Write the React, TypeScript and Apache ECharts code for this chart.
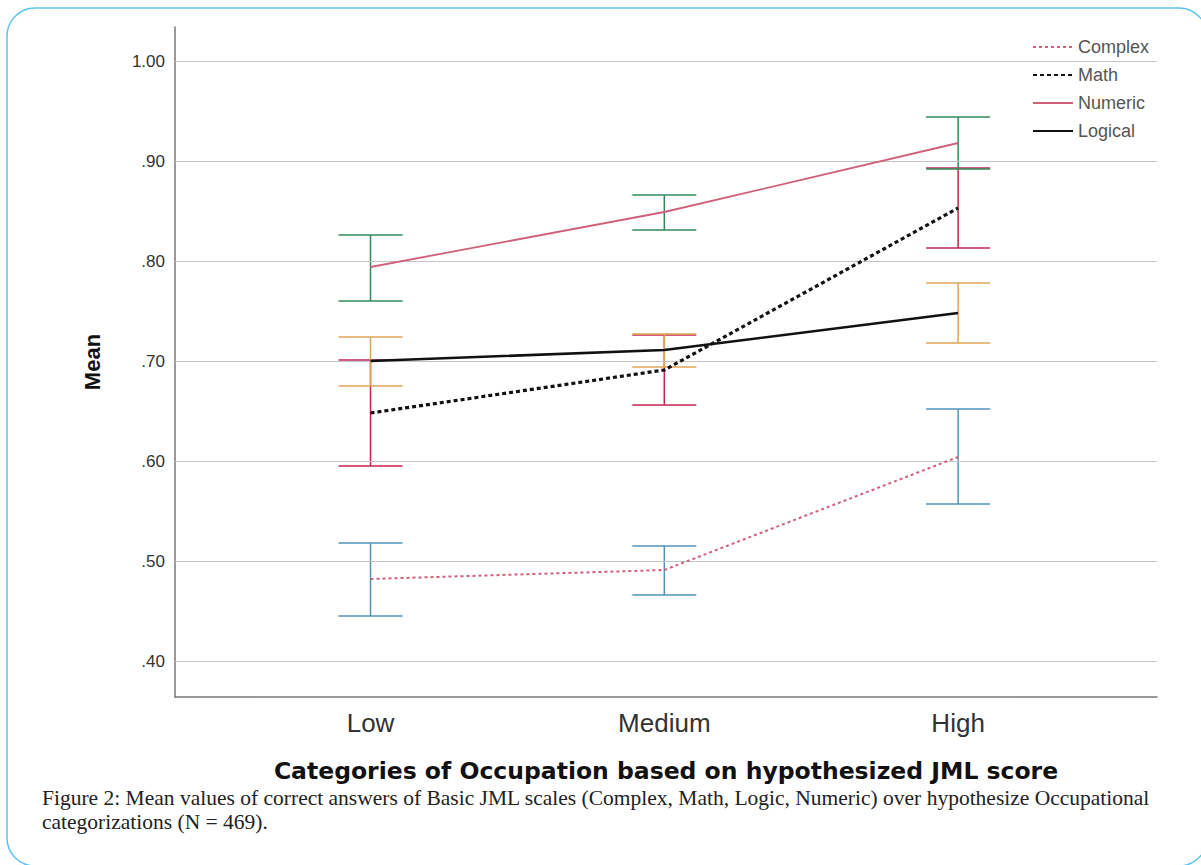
import React, { useEffect, useRef } from "react";
import * as echarts from "echarts";

const categories = ["Low", "Medium", "High"];
const categoryPositions = [1, 2, 3];
const yTicks = [0.4, 0.5, 0.6, 0.7, 0.8, 0.9, 1.0];

const complexMean = [0.482, 0.491, 0.604];
const complexLow = [0.445, 0.466, 0.557];
const complexHigh = [0.518, 0.515, 0.652];

const mathMean = [0.648, 0.691, 0.853];
const mathLow = [0.595, 0.656, 0.813];
const mathHigh = [0.701, 0.726, 0.893];

const numericMean = [0.794, 0.849, 0.918];
const numericLow = [0.760, 0.831, 0.892];
const numericHigh = [0.826, 0.866, 0.944];

const logicalMean = [0.700, 0.711, 0.748];
const logicalLow = [0.675, 0.694, 0.718];
const logicalHigh = [0.724, 0.727, 0.778];

const captionLines = [
  "Figure 2: Mean values of correct answers of Basic JML scales (Complex, Math, Logic, Numeric) over hypothesize Occupational",
  "categorizations (N = 469).",
];

const FONT = "Liberation Sans, Arial, sans-serif";

function errorBarSeries(name: string, lows: number[], highs: number[], color: string) {
  return {
    name,
    type: "custom",
    z: 2,
    data: categoryPositions.map((x, i) => [x, lows[i], highs[i]]),
    encode: { x: 0, y: [1, 2] },
    renderItem: (params: any, api: any) => {
      const x = api.value(0);
      const pHi = api.coord([x, api.value(2)]);
      const pLo = api.coord([x, api.value(1)]);
      const half = 32;
      const style = { stroke: color, lineWidth: 1.5 };
      return {
        type: "group",
        children: [
          { type: "line", shape: { x1: pHi[0], y1: pHi[1], x2: pLo[0], y2: pLo[1] }, style },
          { type: "line", shape: { x1: pHi[0] - half, y1: pHi[1], x2: pHi[0] + half, y2: pHi[1] }, style },
          { type: "line", shape: { x1: pLo[0] - half, y1: pLo[1], x2: pLo[0] + half, y2: pLo[1] }, style },
        ],
      };
    },
  };
}

function meanSeries(name: string, values: number[], color: string, width: number, type: any) {
  return {
    name,
    type: "line",
    z: 5,
    symbol: "none",
    data: categoryPositions.map((x, i) => [x, values[i]]),
    lineStyle: { color, width, type },
    itemStyle: { color },
  };
}

export default function App() {
  const ref = useRef<HTMLDivElement>(null);
  useEffect(() => {
    document.body.style.margin = "0";
    document.body.style.overflow = "hidden";
    const chart = echarts.init(ref.current!, null, { renderer: "svg" });
    chart.setOption({
      animation: false,
      backgroundColor: "#ffffff",
      grid: { left: 175, right: 44, top: 27, bottom: 168 },
      legend: {
        data: ["Complex", "Math", "Numeric", "Logical"],
        orient: "vertical",
        left: 1027,
        top: 33,
        itemWidth: 40,
        itemHeight: 16,
        itemGap: 10,
        itemStyle: { opacity: 0 },
        textStyle: { fontFamily: FONT, fontSize: 18, color: "#555" },
      },
      xAxis: {
        type: "value",
        min: 0.3345,
        max: 3.677,
        name: "Categories of Occupation based on hypothesized JML score",
        nameLocation: "middle",
        nameGap: 62,
        nameTextStyle: { fontFamily: "DejaVu Sans, sans-serif", fontSize: 23.5, fontWeight: "bold", color: "#111" },
        axisLine: { show: true, lineStyle: { color: "#777", width: 1.5 } },
        axisTick: { show: false },
        splitLine: { show: false },
        axisLabel: {
          customValues: categoryPositions,
          formatter: (v: number) => categories[Math.round(v) - 1] ?? "",
          fontFamily: FONT,
          fontSize: 26,
          color: "#333",
          margin: 13,
        },
      },
      yAxis: {
        type: "value",
        min: 0.364,
        max: 1.034,
        name: "Mean",
        nameLocation: "middle",
        nameRotate: 90,
        nameGap: 72,
        nameTextStyle: { fontFamily: FONT, fontSize: 22, fontWeight: "bold", color: "#111" },
        axisLine: { show: true, lineStyle: { color: "#777", width: 1.5 } },
        axisTick: { show: false, customValues: yTicks },
        splitLine: { show: false },
        axisLabel: {
          customValues: yTicks,
          formatter: (v: number) => (v >= 1 ? v.toFixed(2) : v.toFixed(2).replace(/^0/, "")),
          fontFamily: FONT,
          fontSize: 17,
          color: "#333",
          margin: 10,
        },
      },
      graphic: [
        {
          type: "rect",
          shape: { x: 7, y: 8, width: 1200, height: 858, r: 28 },
          style: { fill: "none", stroke: "#5cc3ee", lineWidth: 1.5 },
          silent: true,
        },
        {
          type: "text",
          left: 42,
          top: 786,
          style: {
            text: captionLines.join("\n"),
            fontFamily: "Liberation Serif, Times New Roman, serif",
            fontSize: 21.5,
            lineHeight: 24,
            fill: "#222",
          },
        },
      ],
      series: [
        {
          name: "grid",
          type: "line",
          data: [],
          z: 1,
          markLine: {
            silent: true,
            symbol: ["none", "none"],
            label: { show: false },
            lineStyle: { color: "#c4c4c4", type: "solid", width: 1.2 },
            data: yTicks.map((v) => ({ yAxis: v })),
          },
        },
        errorBarSeries("Complex error", complexLow, complexHigh, "#4f93b8"),
        errorBarSeries("Math error", mathLow, mathHigh, "#c4244f"),
        errorBarSeries("Numeric error", numericLow, numericHigh, "#2f8a5a"),
        errorBarSeries("Logical error", logicalLow, logicalHigh, "#e0a458"),
        meanSeries("Complex", complexMean, "#d0607a", 2, [3, 3]),
        meanSeries("Math", mathMean, "#111111", 3.2, [4, 3]),
        meanSeries("Numeric", numericMean, "#d0607a", 1.8, "solid"),
        meanSeries("Logical", logicalMean, "#111111", 2.6, "solid"),
      ],
    });
    return () => chart.dispose();
  }, []);
  return <div ref={ref} style={{ width: 1201, height: 865 }} />;
}
